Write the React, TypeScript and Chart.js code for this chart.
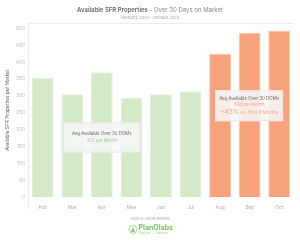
import React, { useEffect, useRef } from "react";
import { Chart, registerables } from "chart.js";

Chart.register(...registerables);

const months = ["Feb", "Mar", "Apr", "May", "Jun", "Jul", "Aug", "Sep", "Oct"];
const values = [353, 305, 370, 295, 305, 314, 425, 487, 494];
const isRecent = [false, false, false, false, false, false, true, true, true];
const yTicks = [0, 50, 100, 150, 200, 250, 300, 350, 400, 450, 500];

const GREEN = "#d3e9c8";
const GREEN_BORDER = "#e2f1da";
const ORANGE = "#f8a27c";
const ORANGE_BORDER = "#fbc3aa";
const FONT = "Inter, 'Noto Sans', sans-serif";

const overlay = {
  id: "overlay",
  afterDatasetsDraw(chart: any) {
    const ctx = chart.ctx;
    const x = chart.scales.x;
    const y = chart.scales.y;
    const ca = chart.chartArea;
    ctx.save();
    ctx.strokeStyle = "#ececec";
    ctx.lineWidth = 1;
    ctx.beginPath();
    ctx.moveTo(ca.left + 0.5, ca.bottom + 12);
    ctx.lineTo(ca.left + 0.5, ca.top + 0.5);
    ctx.lineTo(ca.right, ca.top + 0.5);
    ctx.stroke();

    const drawBox = (cx: number, cy: number, w: number, h: number) => {
      ctx.fillStyle = "rgba(246,246,246,0.88)";
      ctx.fillRect(cx - w / 2, cy - h / 2, w, h);
      ctx.strokeStyle = "rgba(232,232,232,0.9)";
      ctx.strokeRect(cx - w / 2 + 0.5, cy - h / 2 + 0.5, w - 1, h - 1);
    };
    const b1x = x.getPixelForValue(2);
    const b1y = y.getPixelForValue(177);
    drawBox(b1x, b1y, 77, 30);
    ctx.textAlign = "center";
    ctx.textBaseline = "middle";
    ctx.fillStyle = "#666";
    ctx.font = `4.4px ${FONT}`;
    ctx.fillText("Avg Available Over 30 DOMs", b1x, b1y - 4);
    ctx.fillStyle = "#9ccf86";
    ctx.fillText("327 per Month", b1x, b1y + 3);

    const b2x = x.getPixelForValue(7) - 0.5;
    const b2y = y.getPixelForValue(271);
    drawBox(b2x, b2y, 68, 31);
    ctx.fillStyle = "#666";
    ctx.font = `4.4px ${FONT}`;
    ctx.fillText("Avg Available Over 30 DOMs", b2x, b2y - 7);
    ctx.fillStyle = "#f6a383";
    ctx.fillText("468 per Month", b2x, b2y - 1);
    ctx.font = `6.5px ${FONT}`;
    const p1 = "+43%";
    const w1 = ctx.measureText(p1).width;
    ctx.font = `italic 4.4px ${FONT}`;
    const p2 = " vs. Prior 6 Months";
    const w2 = ctx.measureText(p2).width;
    const sx = b2x - (w1 + w2) / 2;
    ctx.textAlign = "left";
    ctx.font = `6.5px ${FONT}`;
    ctx.fillText(p1, sx, b2y + 6);
    ctx.font = `italic 4.4px ${FONT}`;
    ctx.fillText(p2, sx + w1, b2y + 6.5);

    // title
    ctx.textBaseline = "middle";
    ctx.font = `600 6px ${FONT}`;
    const t1 = "Available SFR Properties";
    const tw1 = ctx.measureText(t1).width;
    ctx.font = `6px ${FONT}`;
    const t2 = " - Over 30 Days on Market";
    const tw2 = ctx.measureText(t2).width;
    const tx = 150 - (tw1 + tw2) / 2;
    ctx.fillStyle = "#666";
    ctx.font = `600 6px ${FONT}`;
    ctx.fillText(t1, tx, 10);
    ctx.fillStyle = "#888";
    ctx.font = `6px ${FONT}`;
    ctx.fillText(t2, tx + tw1, 10);
    ctx.textAlign = "center";
    ctx.font = `italic 4px ${FONT}`;
    ctx.fillStyle = "#999";
    ctx.fillText("February 2023 - October 2023", 150, 17.3);

    ctx.font = `italic 3.8px ${FONT}`;
    ctx.fillStyle = "#aaa";
    ctx.fillText("Source: Zillow Rentals", 150, 219);

    const lx = 133;
    const ly = 229.5;
    ctx.strokeStyle = "#8ccb7a";
    ctx.lineWidth = 0.8;
    ctx.beginPath();
    ctx.arc(lx, ly, 4, 0, Math.PI * 2);
    ctx.stroke();
    ctx.fillStyle = "#8ccb7a";
    ctx.beginPath();
    ctx.moveTo(lx - 2.2, ly + 2.5);
    ctx.lineTo(lx, ly - 2.6);
    ctx.lineTo(lx + 2.2, ly + 2.5);
    ctx.closePath();
    ctx.fill();
    ctx.textAlign = "left";
    ctx.font = `bold 7px ${FONT}`;
    ctx.fillStyle = "#78c266";
    ctx.fillText("PlanOlabs", lx + 5.5, ly - 1.2);
    ctx.font = `3px ${FONT}`;
    ctx.fillStyle = "#9ad189";
    ctx.fillText("Analyze  •  Optimize", lx + 6, ly + 4);
    ctx.restore();
  },
};

export default function App() {
  const ref = useRef<HTMLCanvasElement | null>(null);
  useEffect(() => {
    document.body.style.margin = "0";
    const chart = new Chart(ref.current as HTMLCanvasElement, {
      type: "bar",
      data: {
        labels: months,
        datasets: [
          {
            data: values,
            backgroundColor: isRecent.map((r) => (r ? ORANGE : GREEN)),
            borderColor: isRecent.map((r) => (r ? ORANGE_BORDER : GREEN_BORDER)),
            borderWidth: 1,
            barPercentage: 0.74,
            categoryPercentage: 1,
          },
        ],
      },
      options: {
        animation: false,
        responsive: false,
        maintainAspectRatio: false,
        layout: { padding: { top: 23, right: 6, bottom: 23, left: 5 } },
        plugins: { legend: { display: false }, tooltip: { enabled: false } },
        scales: {
          x: {
            grid: { display: false, drawTicks: false },
            border: { display: false },
            ticks: { color: "#aaa", font: { size: 4.8, family: FONT }, padding: 7 },
          },
          y: {
            min: 0,
            max: 516,
            grid: { display: false, drawTicks: false },
            border: { display: false },
            afterBuildTicks: (scale: any) => {
              scale.ticks = yTicks.map((v) => ({ value: v }));
            },
            ticks: { color: "#bbb", font: { size: 4.8, family: FONT }, padding: 3 },
            title: {
              display: true,
              text: "Available SFR Properties per Market",
              color: "#666",
              font: { size: 4.8, family: FONT },
              padding: { top: 0, bottom: 2 },
            },
          },
        },
      },
      plugins: [overlay],
    });
    return () => chart.destroy();
  }, []);
  return (
    <div style={{ position: "absolute", left: 0, top: 0, width: 300, height: 240 }}>
      <canvas ref={ref} width={300} height={240} style={{ width: 300, height: 240 }} />
    </div>
  );
}
